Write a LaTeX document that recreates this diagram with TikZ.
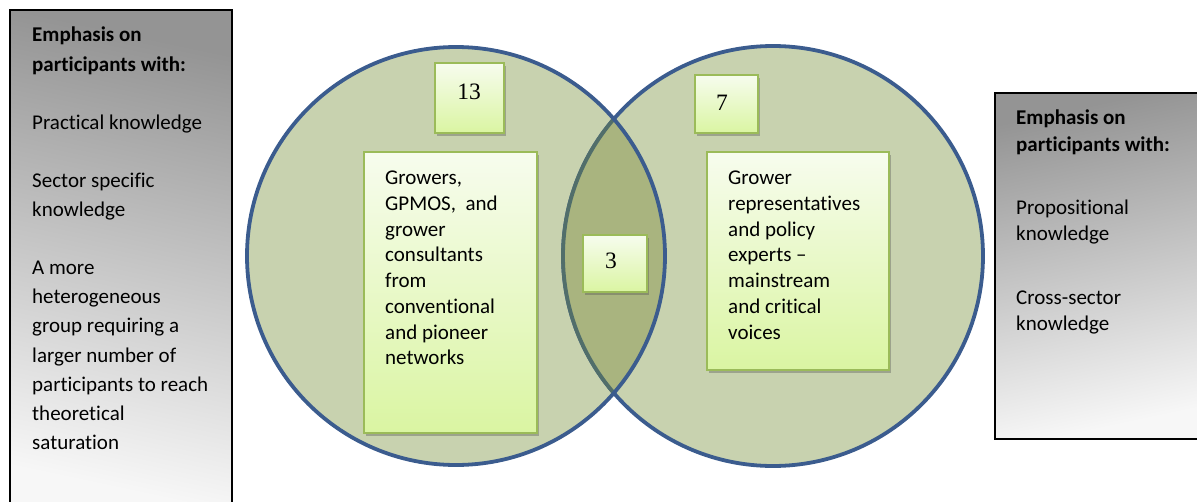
\documentclass[tikz,border=0pt]{standalone}
\usepackage{fontspec}
\setmainfont{Carlito}[Ligatures={NoCommon}]
\newfontfamily\numfont{Liberation Serif}
\usetikzlibrary{shadows}
\definecolor{circfill}{HTML}{C8D2AF}
\definecolor{lensfill}{HTML}{A9B47F}
\definecolor{circline}{HTML}{3B5C8E}
\definecolor{lensline}{HTML}{516E6A}
\definecolor{boxline}{HTML}{9BBB59}
\definecolor{boxtop}{HTML}{F7FCEE}
\definecolor{boxbot}{HTML}{DAF5A2}
\tikzset{
  graybox/.style={draw=black, line width=1.3pt},
  greenbox/.style={draw=boxline, line width=1.5pt, top color=boxtop, bottom color=boxbot,
    drop shadow={shadow xshift=1.5pt, shadow yshift=-2.5pt, opacity=0.35, fill=black!70}},
  bodytext/.style={anchor=north west, inner sep=0pt, align=left, font=\fontsize{21}{25.7}\selectfont},
  numtext/.style={inner sep=0pt, font=\numfont\fontsize{23.5}{26}\selectfont}
}
\begin{document}
\begin{tikzpicture}[x=1pt,y=-1pt]
\useasboundingbox (0,0) rectangle (1197,501);
% gray side panels
\shade[graybox, top color=black!42, bottom color=black!3, shading angle=-12] (10,10) rectangle (232,512);
\shade[graybox, top color=black!42, bottom color=black!3, shading angle=12] (995,93) rectangle (1206,439);
% circles
\coordinate (cl) at (456,256);
\coordinate (cr) at (773,256);
\fill[circfill] (cl) circle[radius=209pt];
\fill[circfill] (cr) circle[radius=210pt];
\draw[circline, line width=3.8pt] (cr) circle[radius=210pt];
\begin{scope}
  \clip (cl) circle[radius=209pt];
  \fill[lensfill] (cr) circle[radius=210pt];
  \draw[lensline, line width=3.8pt] (cr) circle[radius=210pt];
\end{scope}
\draw[circline, line width=3.8pt] (cl) circle[radius=209pt];
% green boxes
\node[greenbox, minimum width=69pt, minimum height=70pt] (b13) at (469.5,98) {};
\node[greenbox, minimum width=173pt, minimum height=281pt] (bl) at (450.5,292.5) {};
\node[greenbox, minimum width=63pt, minimum height=58pt] (b7) at (726.5,104) {};
\node[greenbox, minimum width=182pt, minimum height=218pt] (br) at (798,261) {};
\node[greenbox, minimum width=64pt, minimum height=57pt] (b3) at (615,263.5) {};
% numbers
\node[numtext] (t13) at (469,92) {13};
\node[numtext] (t7) at (722,103) {7};
\node[numtext] (t3) at (611,261) {3};
% box texts
\node[bodytext] (tl) at (385,171) {Growers,\\GPMOS,~ and\\grower\\consultants\\from\\conventional\\and pioneer\\networks};
\node[bodytext] (tr) at (728,171) {Grower\\representatives\\and policy\\experts --\\mainstream\\and critical\\voices};
% side texts
\node[bodytext, font=\fontsize{21}{29.1}\selectfont] (sl) at (32,27) {\textbf{Emphasis on}\\\textbf{participants with:}\\[29.1pt]Practical knowledge\\[29.1pt]Sector specific\\knowledge\\[29.1pt]A more\\heterogeneous\\group requiring a\\larger number of\\participants to reach\\theoretical\\saturation};
\node[bodytext, font=\fontsize{21}{26.3}\selectfont] (sr) at (1016,110) {\textbf{Emphasis on}\\\textbf{participants with:}\\[37pt]Propositional\\knowledge\\[37pt]Cross-sector\\knowledge};
\end{tikzpicture}
\end{document}
